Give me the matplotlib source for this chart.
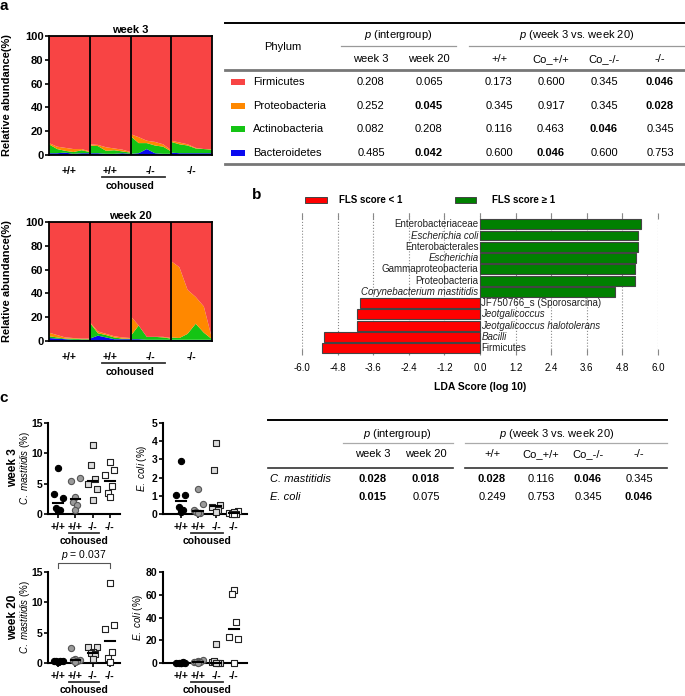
import numpy as np
import matplotlib
matplotlib.use('Agg')
import matplotlib.pyplot as plt
import matplotlib.transforms as mtransforms

plt.rcParams['font.family'] = ['Liberation Sans', 'DejaVu Sans']
plt.rcParams['mathtext.fontset'] = 'custom'
plt.rcParams['mathtext.it'] = 'Liberation Sans:italic'
plt.rcParams['mathtext.rm'] = 'Liberation Sans'
plt.rcParams['mathtext.bf'] = 'Liberation Sans:bold'

W, H = 685, 696

# ---------------- data: panel a ----------------
groups = ['+/+', '+/+', '-/-', '-/-']
phyla = ['Firmicutes', 'Proteobacteria', 'Actinobacteria', 'Bacteroidetes']
phylum_colors = ['#f84444', '#ff8800', '#14c414', '#0a0af0']

# relative abundance (%) per mouse, 6 mice per group
wk3_bacteroidetes = [[1.5, 1.5, 2, 1, 1.5, 1.5], [1.5, 1.5, 1, 1, 1.5, 1],
                     [1, 1.5, 5, 1.5, 1, 1], [2, 1.5, 1.5, 1.5, 1.5, 1.5]]
wk3_actinobacteria = [[7.5, 3.5, 1.5, 1.5, 2.5, 1], [6.5, 6, 2.5, 3, 1.5, 1],
                      [15, 8.5, 5, 6.5, 6, 2], [9, 7.5, 6.5, 4, 3.5, 3]]
wk3_proteobacteria = [[1, 2, 2.5, 2.5, 1, 0.5], [1, 1, 3, 1.5, 1.5, 0.5],
                      [1.5, 5, 2, 3, 2, 1], [1, 1.5, 1, 0.5, 0, 0.5]]

wk20_bacteroidetes = [[2.5, 2, 1.5, 1, 1, 1], [2, 4.5, 3, 1.5, 1.5, 1.5],
                      [1.5, 1.5, 1, 1, 1, 1], [1, 1, 1, 1, 1, 1]]
wk20_actinobacteria = [[1.5, 1, 0.5, 1, 0.5, 0.5], [13.5, 2, 2, 1.5, 0.5, 0.5],
                       [2.5, 11.5, 2.5, 2.5, 2, 1], [2, 1.5, 5, 13.5, 6, 0.5]]
wk20_proteobacteria = [[3, 2, 1, 0.5, 0.5, 0.5], [0.5, 1.5, 1, 1, 1, 0.5],
                       [17, 0, 0, 0, 0.5, 0.5], [64, 59.5, 37, 22.5, 22, 0.5]]

tab_cols = ['week 3', 'week 20', '+/+', 'Co_+/+', 'Co_-/-', '-/-']
tab_a_vals = [[0.208, 0.065, 0.173, 0.600, 0.345, 0.046],
              [0.252, 0.045, 0.345, 0.917, 0.345, 0.028],
              [0.082, 0.208, 0.116, 0.463, 0.046, 0.345],
              [0.485, 0.042, 0.600, 0.046, 0.600, 0.753]]

# ---------------- data: panel b ----------------
lda_taxa = ['Enterobacteriaceae', 'Escherichia coli', 'Enterobacterales', 'Escherichia',
            'Gammaproteobacteria', 'Proteobacteria', 'Corynebacterium mastitidis',
            'JF750766_s (Sporosarcina)', 'Jeotgalicoccus', 'Jeotgalicoccus halotolerans',
            'Bacilli', 'Firmicutes']
lda_scores = [5.42, 5.31, 5.31, 5.26, 5.21, 5.21, 4.55, -4.06, -4.15, -4.15, -5.25, -5.31]
lda_italic = [False, True, False, True, False, False, True, False, True, True, True, False]
lda_ticks = [-6.0, -4.8, -3.6, -2.4, -1.2, 0.0, 1.2, 2.4, 3.6, 4.8, 6.0]

# ---------------- data: panel c ----------------
cm_wk3 = [[3.3, 2.6, 7.6, 1.0, 0.7, 0.5], [5.4, 6.0, 2.8, 2.0, 1.5, 0.6],
          [5.0, 4.1, 11.3, 8.0, 5.8, 2.3], [6.4, 7.2, 8.5, 3.4, 4.6, 2.8]]
ec_wk3 = [[1.05, 1.05, 2.9, 0.4, 0.2, 0.1], [0.2, 0.55, 1.4, 0.1, 0.05, 0.05],
          [0.4, 0.5, 3.9, 2.4, 0.2, 0.1], [0.05, 0.15, 0.1, 0.02, 0.0, 0.0]]
cm_wk20 = [[0.3, 0.25, 0.2, 0.35, 0.3, 0.2], [2.5, 0.45, 0.7, 0.5, 0.3, 0.2],
           [2.6, 2.6, 1.8, 1.6, 1.5, 0.6], [5.6, 6.2, 13.2, 0.9, 1.8, 0.1]]
ec_wk20 = [[0.3, 0.2, 0.4, 0.1, 0.5, 0.2], [1.0, 2.5, 1.5, 0.8, 0.5, 0.3],
           [0.5, 0.3, 17, 1.5, 0.2, 0.1], [23, 21, 64, 61, 36, 0.3]]

tab_c_rows = ['C. mastitidis', 'E. coli']
tab_c_vals = [[0.028, 0.018, 0.028, 0.116, 0.046, 0.345],
              [0.015, 0.075, 0.249, 0.753, 0.345, 0.046]]


def ax_px(fig, x0, y0, x1, y1):
    return fig.add_axes([x0 / W, 1 - y1 / H, (x1 - x0) / W, (y1 - y0) / H])


fig = plt.figure(figsize=(W / 100, H / 100), dpi=100)
ov = fig.add_axes([0, 0, 1, 1])
ov.set_xlim(0, W)
ov.set_ylim(H, 0)
ov.axis('off')

for lab, (x, y) in zip('abc', [(4, 6), (257, 195), (4, 398)]):
    ov.text(x, y, lab, fontsize=11, fontweight='bold', ha='center', va='center')


# ---------------- panel a: stacked areas ----------------
def area_panel(y0, title, blue, green, orange):
    ax = ax_px(fig, 49, y0, 212, y0 + 119)
    for g in range(len(groups)):
        xs = g + np.linspace(0, 1, len(blue[g]))
        b, gr, o = np.array(blue[g]), np.array(green[g]), np.array(orange[g])
        red = 100 - b - gr - o
        ax.stackplot(xs, b, gr, o, red,
                     colors=[phylum_colors[3], phylum_colors[2], phylum_colors[1], phylum_colors[0]],
                     lw=0)
    for g in range(1, len(groups)):
        ax.axvline(g, color='black', lw=1.3)
    ax.set_xlim(0, len(groups))
    ax.set_ylim(0, 100)
    ax.set_yticks([0, 20, 40, 60, 80, 100])
    ax.set_xticks(np.arange(len(groups)) + 0.5)
    ax.set_xticklabels(groups, fontweight='bold', fontsize=7.5)
    ax.tick_params(axis='x', length=0, pad=8)
    ax.tick_params(axis='y', length=3, width=1.2, labelsize=8, pad=1)
    for t in ax.get_yticklabels():
        t.set_fontweight('bold')
    for s in ax.spines.values():
        s.set_linewidth(1.3)
    ax.set_title(title, fontsize=8, fontweight='bold', pad=2)
    ax.set_ylabel('Relative abundance(%)', fontsize=8, fontweight='bold')
    ax.yaxis.set_label_coords(-0.225, 0.5)
    tr = mtransforms.blended_transform_factory(ax.transData, ax.transAxes)
    ax.plot([1.3, 2.85], [-0.185, -0.185], color='#333333', lw=1.3, transform=tr, clip_on=False)
    ax.text(2.0, -0.26, 'cohoused', transform=tr, ha='center', va='center',
            fontsize=7.5, fontweight='bold')


area_panel(36, 'week 3', wk3_bacteroidetes, wk3_actinobacteria, wk3_proteobacteria)
area_panel(222, 'week 20', wk20_bacteroidetes, wk20_actinobacteria, wk20_proteobacteria)


def fmt_p(v):
    return '%.3f' % v


# ---------------- table a ----------------
ov.plot([225, 685], [23, 23], color='black', lw=1.4)
ov.text(283, 47, 'Phylum', ha='center', va='center', fontsize=8)
ov.text(398, 35, r'$\it{p}$ (intergroup)', ha='center', va='center', fontsize=8)
ov.plot([341, 456], [46, 46], color='#999999', lw=0.9)
ov.text(577, 35, r'$\it{p}$ (week 3 vs. week 20)', ha='center', va='center', fontsize=8)
ov.plot([469, 685], [46, 46], color='#999999', lw=0.9)
col_a = [371, 429, 499, 551, 604, 660]
for cx, c in zip(col_a, tab_cols):
    ov.text(cx, 59, c, ha='center', va='center', fontsize=8)
ov.plot([225, 685], [70, 70], color='#777777', lw=2.0)
ov.plot([225, 685], [164, 164], color='#777777', lw=2.0)
row_a = [82, 106, 129, 153]
for ry, name, col, vals in zip(row_a, phyla, phylum_colors, tab_a_vals):
    ov.add_patch(plt.Rectangle((231, ry - 3), 14, 6, color=col, lw=0))
    ov.text(253, ry, name, ha='left', va='center', fontsize=8)
    for cx, v in zip(col_a, vals):
        ov.text(cx, ry, fmt_p(v), ha='center', va='center', fontsize=8,
                fontweight='bold' if v < 0.05 else 'normal')

# ---------------- panel b: LDA ----------------
axb = ax_px(fig, 302, 213, 658, 355)
ypos = np.arange(len(lda_taxa))
bar_cols = ['#008000' if s > 0 else '#ff0000' for s in lda_scores]
axb.barh(ypos, lda_scores, height=0.88, color=bar_cols, edgecolor='#444444', lw=0.8, zorder=3)
for y, name, s, it in zip(ypos, lda_taxa, lda_scores, lda_italic):
    axb.text(-0.05 if s > 0 else 0.05, y, name, ha='right' if s > 0 else 'left', va='center',
             fontsize=7, style='italic' if it else 'normal', color='#222222', zorder=4)
axb.set_ylim(11.6, -1.0)
axb.set_xlim(-6.0, 6.0)
axb.set_xticks(lda_ticks)
axb.set_xticklabels(['%.1f' % t for t in lda_ticks], fontsize=7)
axb.set_yticks([])
axb.grid(axis='x', linestyle=':', color='#888888', lw=0.8, zorder=0)
axb.tick_params(axis='x', top=True, direction='in', length=4, width=0.8, color='#888888', pad=6)
for s in axb.spines.values():
    s.set_visible(False)
axb.set_xlabel('LDA Score (log 10)', fontsize=7.5, fontweight='bold', labelpad=6)

ov.add_patch(plt.Rectangle((305, 197), 22, 6, facecolor='#ff0000', edgecolor='#444444', lw=0.7))
ov.text(339, 200, 'FLS score < 1', ha='left', va='center', fontsize=7, fontweight='bold')
ov.add_patch(plt.Rectangle((455, 197), 21, 6, facecolor='#008000', edgecolor='#444444', lw=0.7))
ov.text(492, 200, 'FLS score \u2265 1', ha='left', va='center', fontsize=7, fontweight='bold')

# ---------------- panel c: scatter ----------------
mk = [dict(marker='o', facecolor='black', edgecolor='black'),
      dict(marker='o', facecolor='#9a9a9a', edgecolor='#555555'),
      dict(marker='s', facecolor='#dddddd', edgecolor='#222222'),
      dict(marker='s', facecolor='white', edgecolor='#222222')]
jitter = [-0.25, 0.25, 0.0, -0.12, 0.12, 0.0]


def dot_panel(x0, x1, y0, data, ymax, yticks, xl):
    ax = ax_px(fig, x0, y0, x1, y0 + 91)
    for g, vals in enumerate(data):
        xs = g + np.array(jitter[:len(vals)])
        ax.scatter(xs, vals, s=20, lw=0.8, clip_on=False, zorder=3, **mk[g])
        med = np.median(vals)
        ax.plot([g - 0.28, g + 0.28], [med, med], color='black', lw=1.5, zorder=4, clip_on=False)
    ax.set_xlim(*xl)
    ax.set_ylim(0, ymax)
    ax.set_yticks(yticks)
    ax.set_xticks(range(len(groups)))
    ax.set_xticklabels(groups, fontweight='bold', fontsize=7.5)
    for t in ax.get_yticklabels():
        t.set_fontweight('bold')
    ax.tick_params(length=3, width=1.2, labelsize=7.5, pad=1)
    ax.tick_params(axis='x', pad=3)
    for side in ['top', 'right']:
        ax.spines[side].set_visible(False)
    for side in ['left', 'bottom']:
        ax.spines[side].set_linewidth(1.5)
    tr = mtransforms.blended_transform_factory(ax.transData, ax.transAxes)
    ax.plot([0.6, 2.4], [-0.21, -0.21], color='#333333', lw=1.3, transform=tr, clip_on=False)
    ax.text(1.5, -0.3, 'cohoused', transform=tr, ha='center', va='center',
            fontsize=7.5, fontweight='bold')
    return ax


cm_lab = r'$\it{C.\ mastitidis}$ (%)'
ec_lab = r'$\it{E.\ coli}$ (%)'
dot_panel(48, 120, 423, cm_wk3, 15, [0, 5, 10, 15], (-0.6, 3.6))
dot_panel(163, 247, 423, ec_wk3, 5, [0, 1, 2, 3, 4, 5], (-1.0, 3.75))
ax3 = dot_panel(48, 120, 572, cm_wk20, 15, [0, 5, 10, 15], (-0.6, 3.6))
dot_panel(163, 247, 572, ec_wk20, 80, [0, 20, 40, 60, 80], (-1.0, 3.75))

ax3.plot([0, 0, 3, 3], [15.7, 16.5, 16.5, 15.7], color='#555555', lw=0.8, clip_on=False)
ax3.text(1.5, 16.7, r'$\it{p}$ = 0.037', ha='center', va='bottom', fontsize=7.5)

for yc, wk, ex in [(468, 'week 3', 142), (617, 'week 20', 138)]:
    ov.text(13, yc, wk, rotation=90, ha='center', va='center', fontsize=8.5, fontweight='bold')
    ov.text(25, yc, cm_lab, rotation=90, ha='center', va='center', fontsize=7)
    ov.text(ex, yc, ec_lab, rotation=90, ha='center', va='center', fontsize=7)

# ---------------- table c ----------------
ov.plot([268, 667], [420, 420], color='black', lw=1.4)
ov.text(397, 434, r'$\it{p}$ (intergroup)', ha='center', va='center', fontsize=8)
ov.plot([343, 453], [443, 443], color='#aaaaaa', lw=0.9)
ov.text(557, 434, r'$\it{p}$ (week 3 vs. week 20)', ha='center', va='center', fontsize=8)
ov.plot([465, 667], [443, 443], color='#aaaaaa', lw=0.9)
col_c = [373, 426, 492, 541, 588, 639]
for cx, c in zip(col_c, tab_cols):
    ov.text(cx, 454, c, ha='center', va='center', fontsize=8)
ov.plot([268, 453], [468, 468], color='#333333', lw=1.2)
ov.plot([465, 667], [468, 468], color='#333333', lw=1.2)
for ry, name, vals in zip([479, 497], tab_c_rows, tab_c_vals):
    ov.text(270, ry, name, ha='left', va='center', fontsize=8, style='italic')
    for cx, v in zip(col_c, vals):
        ov.text(cx, ry, fmt_p(v), ha='center', va='center', fontsize=8,
                fontweight='bold' if v < 0.05 else 'normal')

fig.savefig('out.png', dpi=100)
